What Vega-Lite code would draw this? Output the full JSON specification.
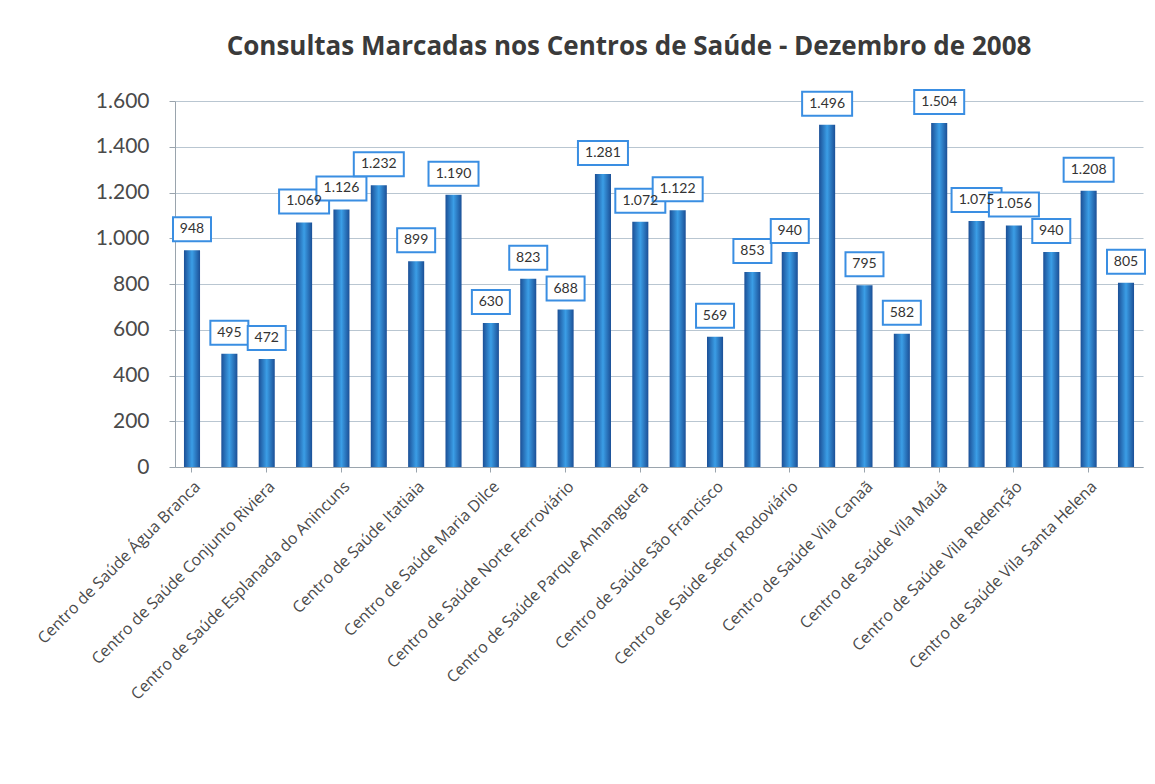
{
  "$schema": "https://vega.github.io/schema/vega-lite/v6.json",
  "width": 968,
  "height": 366,
  "padding": {"left": 34, "top": 33, "right": 20, "bottom": 10},
  "background": "white",
  "title": {
    "text": "Consultas Marcadas nos Centros de Saúde - Dezembro de 2008",
    "font": "Open Sans",
    "fontSize": 26,
    "fontWeight": "bold",
    "color": "#3a3a3a",
    "offset": 29,
    "dx": -30,
    "anchor": "middle"
  },
  "config": {
    "locale": {"number": {"decimal": ",", "thousands": ".", "grouping": [3], "currency": ["R$", ""]}},
    "view": {"stroke": null}
  },
  "data": {
    "values": [
      {"centro": "Centro de Saúde Água Branca", "consultas": 948},
      {"centro": "Centro de Saúde (não legível 2)", "consultas": 495},
      {"centro": "Centro de Saúde Conjunto Riviera", "consultas": 472},
      {"centro": "Centro de Saúde (não legível 4)", "consultas": 1069},
      {"centro": "Centro de Saúde Esplanada do Anincuns", "consultas": 1126},
      {"centro": "Centro de Saúde (não legível 6)", "consultas": 1232},
      {"centro": "Centro de Saúde Itatiaia", "consultas": 899},
      {"centro": "Centro de Saúde (não legível 8)", "consultas": 1190},
      {"centro": "Centro de Saúde Maria Dilce", "consultas": 630},
      {"centro": "Centro de Saúde (não legível 10)", "consultas": 823},
      {"centro": "Centro de Saúde Norte Ferroviário", "consultas": 688},
      {"centro": "Centro de Saúde (não legível 12)", "consultas": 1281},
      {"centro": "Centro de Saúde Parque Anhanguera", "consultas": 1072},
      {"centro": "Centro de Saúde (não legível 14)", "consultas": 1122},
      {"centro": "Centro de Saúde São Francisco", "consultas": 569},
      {"centro": "Centro de Saúde (não legível 16)", "consultas": 853},
      {"centro": "Centro de Saúde Setor Rodoviário", "consultas": 940},
      {"centro": "Centro de Saúde (não legível 18)", "consultas": 1496},
      {"centro": "Centro de Saúde Vila Canaã", "consultas": 795},
      {"centro": "Centro de Saúde (não legível 20)", "consultas": 582},
      {"centro": "Centro de Saúde Vila Mauá", "consultas": 1504},
      {"centro": "Centro de Saúde (não legível 22)", "consultas": 1075},
      {"centro": "Centro de Saúde Vila Redenção", "consultas": 1056},
      {"centro": "Centro de Saúde (não legível 24)", "consultas": 940},
      {"centro": "Centro de Saúde Vila Santa Helena", "consultas": 1208},
      {"centro": "Centro de Saúde (não legível 26)", "consultas": 805}
    ]
  },
  "encoding": {
    "x": {
      "field": "centro",
      "type": "nominal",
      "sort": null,
      "scale": {"paddingInner": 0.57, "paddingOuter": 0.24},
      "axis": {
        "title": null,
        "values": [
          "Centro de Saúde Água Branca",
          "Centro de Saúde Conjunto Riviera",
          "Centro de Saúde Esplanada do Anincuns",
          "Centro de Saúde Itatiaia",
          "Centro de Saúde Maria Dilce",
          "Centro de Saúde Norte Ferroviário",
          "Centro de Saúde Parque Anhanguera",
          "Centro de Saúde São Francisco",
          "Centro de Saúde Setor Rodoviário",
          "Centro de Saúde Vila Canaã",
          "Centro de Saúde Vila Mauá",
          "Centro de Saúde Vila Redenção",
          "Centro de Saúde Vila Santa Helena"
        ],
        "labelAngle": -45,
        "labelAlign": "right",
        "labelFont": "Open Sans",
        "labelFontSize": 16,
        "labelColor": "#4a4a4a",
        "labelLimit": 500,
        "labelOverlap": false,
        "labelPadding": 6,
        "tickColor": "#9aa4ad",
        "tickSize": 5,
        "domainColor": "#9aa4ad"
      }
    },
    "y": {
      "field": "consultas",
      "type": "quantitative",
      "scale": {"domain": [0, 1600]},
      "axis": {
        "title": null,
        "values": [0, 200, 400, 600, 800, 1000, 1200, 1400, 1600],
        "format": ",d",
        "labelFont": "Lato",
        "labelFontSize": 21,
        "labelColor": "#4a4a4a",
        "labelPadding": 20,
        "gridColor": "#b9c6d1",
        "tickColor": "#9aa4ad",
        "tickSize": 6,
        "domainColor": "#9aa4ad"
      }
    }
  },
  "layer": [
    {
      "mark": {
        "type": "bar",
        "color": {"gradient": "linear", "x1": 0, "y1": 0, "x2": 1, "y2": 0,
          "stops": [{"offset": 0, "color": "#1b4f96"}, {"offset": 0.5, "color": "#3b9ee6"}, {"offset": 1, "color": "#1b4f96"}]}
      }
    },
    {
      "transform": [{"filter": "datum.consultas >= 1000"}],
      "mark": {"type": "tick", "color": "white", "stroke": "#3a8ee2", "strokeWidth": 2, "opacity": 1, "size": 50, "thickness": 24, "yOffset": -21}
    },
    {
      "transform": [{"filter": "datum.consultas < 1000"}],
      "mark": {"type": "tick", "color": "white", "stroke": "#3a8ee2", "strokeWidth": 2, "opacity": 1, "size": 38, "thickness": 24, "yOffset": -21}
    },
    {
      "mark": {"type": "text", "yOffset": -21, "baseline": "middle", "font": "Lato", "fontSize": 14, "color": "#333333"},
      "encoding": {
        "text": {"field": "consultas", "type": "quantitative", "format": ",d"}
      }
    }
  ]
}
